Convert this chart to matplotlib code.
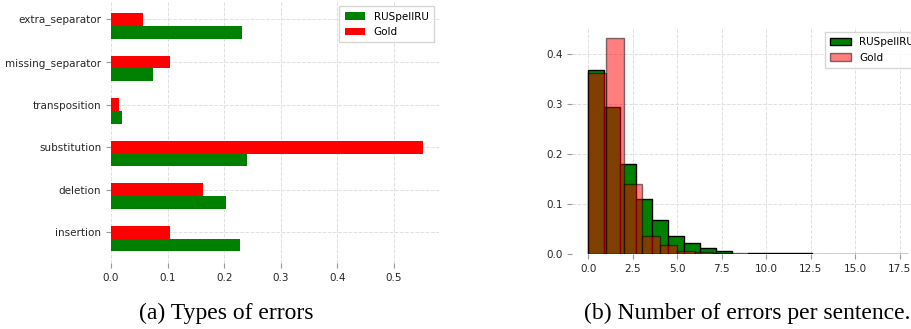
import numpy as np
import matplotlib as mpl
from matplotlib import pyplot as plt

# (a) share of each error type
categories = ['insertion', 'deletion', 'substitution', 'transposition',
              'missing_separator', 'extra_separator']
ruspell_types = [0.228, 0.203, 0.240, 0.020, 0.074, 0.232]
gold_types = [0.104, 0.163, 0.552, 0.014, 0.104, 0.057]

# (b) errors per sentence, density per bin
ruspell_edges = np.linspace(0, 18, 21)
ruspell_density = [0.368, 0.295, 0.180, 0.110, 0.068, 0.037, 0.022, 0.012,
                   0.005, 0.0, 0.001, 0.001, 0.001, 0.001, 0.0, 0.0,
                   0.0, 0.0, 0.0, 0.0]
gold_edges = np.linspace(0, 10, 11)
gold_density = [0.362, 0.433, 0.140, 0.037, 0.017, 0.005, 0.003, 0.002,
                0.001, 0.0]

GREEN = '#008000'
RED = '#ff0000'


def style_axis(ax):
    for s in ax.spines.values():
        s.set_visible(False)
    ax.grid(True, linestyle='--', color='#e0e0e0', linewidth=0.7)
    ax.set_axisbelow(True)
    ax.tick_params(length=3.5, width=0.8, color='#999999',
                   labelcolor='#262626', labelsize=7.5)


def add_legend(ax):
    ax.legend(loc='upper right', fontsize=7.5, fancybox=False,
              framealpha=0.8, edgecolor='#cccccc', borderpad=0.5,
              handlelength=2.0)


def main():
    mpl.rcParams.update({'font.size': 7.5})
    fig = plt.figure(figsize=(9.12, 3.29), dpi=100)

    # --- left panel: error types
    ax1 = fig.add_axes([0.1217, 0.1994, 0.3597, 0.797])
    y = np.arange(len(categories))
    h = 0.3
    ax1.barh(y - h, ruspell_types, height=h, color=GREEN, label='RUSpellRU')
    ax1.barh(y, gold_types, height=h, color=RED, label='Gold')
    ax1.set_yticks(y)
    ax1.set_yticklabels(categories)
    ax1.set_xticks([0.0, 0.1, 0.2, 0.3, 0.4, 0.5])
    style_axis(ax1)
    add_legend(ax1)

    # --- right panel: errors per sentence
    ax2 = fig.add_axes([0.6277, 0.2280, 0.3860, 0.6900])
    rc = (ruspell_edges[:-1] + ruspell_edges[1:]) / 2
    gc = (gold_edges[:-1] + gold_edges[1:]) / 2
    ax2.hist(rc, bins=ruspell_edges, weights=ruspell_density, color=GREEN,
             edgecolor='k', linewidth=1.0, label='RUSpellRU')
    ax2.hist(gc, bins=gold_edges, weights=gold_density, color=RED,
             edgecolor='k', linewidth=1.0, alpha=0.5, label='Gold')
    ax2.set_xticks([0.0, 2.5, 5.0, 7.5, 10.0, 12.5, 15.0, 17.5])
    ax2.set_yticks([0.0, 0.1, 0.2, 0.3, 0.4])
    style_axis(ax2)
    add_legend(ax2)

    # captions
    fig.text(0.248, 0.030, '(a) Types of errors', family='Liberation Serif',
             fontsize=17, ha='center', va='baseline')
    fig.text(0.819, 0.030, '(b) Number of errors per sentence.',
             family='Liberation Serif', fontsize=17, ha='center',
             va='baseline')

    fig.savefig('out.png', dpi=100)


if __name__ == '__main__':
    main()
